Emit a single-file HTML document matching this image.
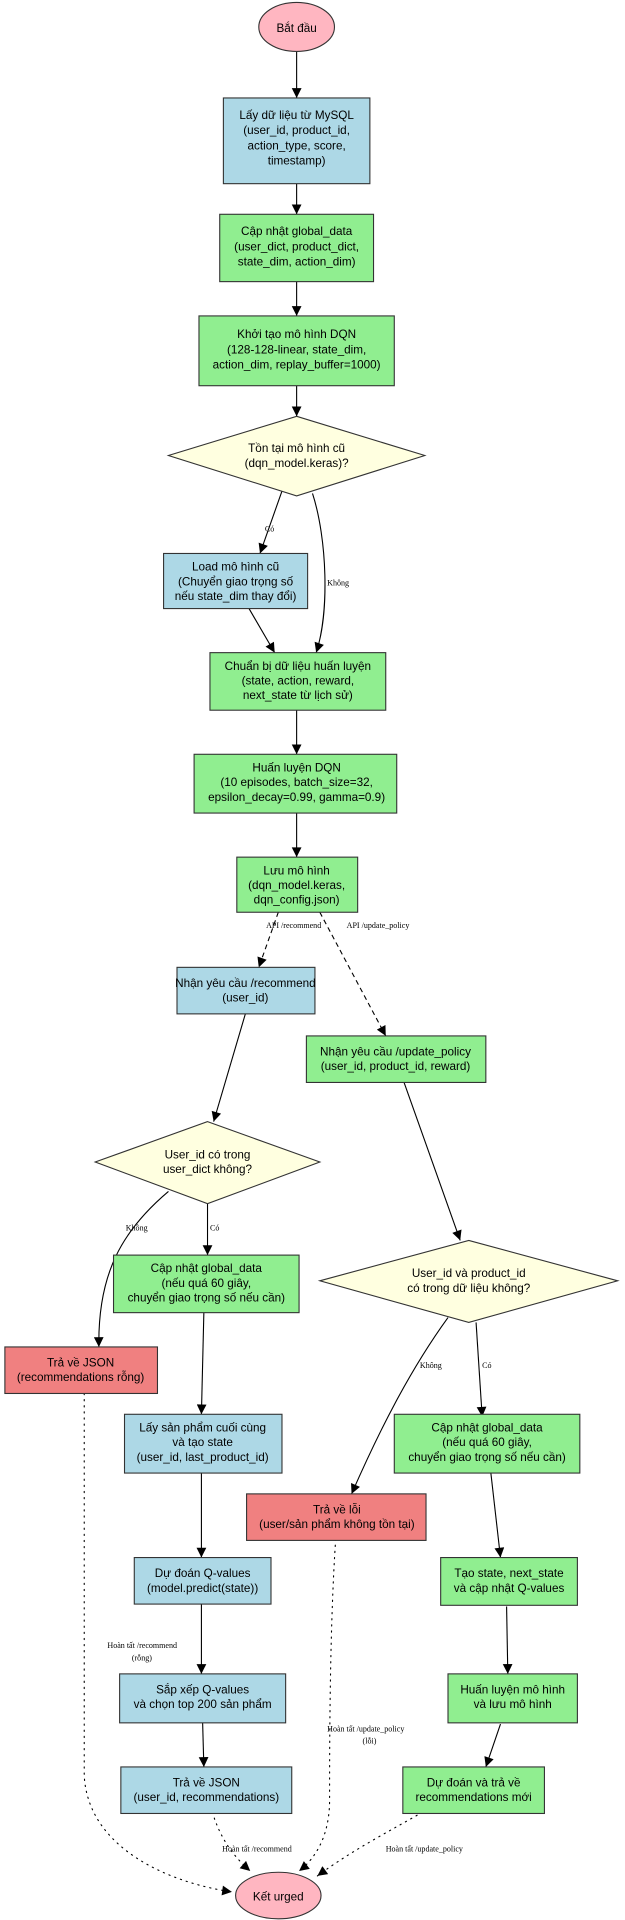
<!DOCTYPE html>
<html><head><meta charset="utf-8"><style>
html,body{margin:0;padding:0;background:#fff;width:625px;height:1920px;overflow:hidden}
svg{display:block}
.n{font-family:"Liberation Sans",sans-serif;font-size:9.6px;fill:#000;text-anchor:middle}
.l{font-family:"Liberation Serif",serif;font-size:6.6px;fill:#000}
.e{fill:none;stroke:#000;stroke-width:0.9}
.d{stroke-dasharray:4 3}
.o{stroke-dasharray:1 4;stroke-linecap:round}
rect,polygon.b,ellipse{stroke:#333;stroke-width:0.9}
.bl{fill:#add8e6}.gr{fill:#90ee90}.rd{fill:#f08080}.ye{fill:#ffffe0}.pk{fill:#ffb6c1}
</style></head><body>
<svg width="625" height="1920" viewBox="0 0 512 1568" preserveAspectRatio="none">
<defs><marker id="a" viewBox="0 0 10 10" refX="10" refY="5" markerWidth="10" markerHeight="8" markerUnits="userSpaceOnUse" orient="auto"><path d="M0,0L10,5L0,10z" fill="#000"/></marker></defs>
<g class="e" marker-end="url(#a)">
<path d="M243,42V80"/><path d="M243,150V175"/><path d="M243,230V258"/><path d="M243,315V340"/>
<path d="M231,401L213,452"/>
<path d="M256,403C268,440 270,500 259,533"/>
<path d="M204,497L225,533"/>
<path d="M243,580V616"/><path d="M243,664V700"/>
<path class="d" d="M228,745L212,790"/>
<path class="d" d="M262,745L316,846"/>
<path d="M201,828L175,916"/>
<path d="M331,884L377,1013"/>
<path d="M170,983V1025"/>
<path d="M138,973C100,1005 80,1040 81,1100"/>
<path d="M390,1080L395,1157"/>
<path d="M367,1076C335,1120 310,1170 288,1220"/>
<path d="M167,1072L165,1155"/>
<path d="M165,1203V1272"/>
<path d="M402,1202L410,1272"/>
<path d="M165,1310V1367"/>
<path d="M415,1312L416,1367"/>
<path d="M166,1407L167,1443"/>
<path d="M410,1408L398,1443"/>
<path class="o" d="M69,1138V1450C72,1510 140,1538 190,1545"/>
<path class="o" d="M275,1257C270,1330 270,1430 270,1470C270,1500 258,1518 245,1528"/>
<path class="o" d="M174,1480C180,1500 190,1515 205,1528"/>
<path class="o" d="M346,1480C320,1495 290,1510 260,1532"/>
</g>
<g class="l">
<text x="217" y="434">Có</text>
<text x="268" y="478">Không</text>
<text x="218" y="758">API /recommend</text>
<text x="284" y="758">API /update_policy</text>
<text x="103" y="1005">Không</text>
<text x="172" y="1005">Có</text>
<text x="344" y="1117">Không</text>
<text x="395" y="1117">Có</text>
<text x="88" y="1346">Hoàn tất /recommend</text>
<text x="108" y="1356">(rỗng)</text>
<text x="268" y="1414">Hoàn tất /update_policy</text>
<text x="297" y="1424">(lỗi)</text>
<text x="182" y="1512">Hoàn tất /recommend</text>
<text x="316" y="1512">Hoàn tất /update_policy</text>
</g>
<ellipse class="pk" cx="243" cy="22" rx="31" ry="20"/>
<text class="n" x="243" y="26">Bắt đầu</text>
<rect class="bl" x="183" y="80" width="120" height="70"/>
<text class="n" y="97"><tspan x="243">Lấy dữ liệu từ MySQL</tspan><tspan x="243" dy="12.5">(user_id, product_id,</tspan><tspan x="243" dy="12.5">action_type, score,</tspan><tspan x="243" dy="12.5">timestamp)</tspan></text>
<rect class="gr" x="180" y="175" width="126" height="55"/>
<text class="n" y="192"><tspan x="243">Cập nhật global_data</tspan><tspan x="243" dy="12.5">(user_dict, product_dict,</tspan><tspan x="243" dy="12.5">state_dim, action_dim)</tspan></text>
<rect class="gr" x="163" y="258" width="160" height="57"/>
<text class="n" y="276"><tspan x="243">Khởi tạo mô hình DQN</tspan><tspan x="243" dy="12.5">(128-128-linear, state_dim,</tspan><tspan x="243" dy="12.5">action_dim, replay_buffer=1000)</tspan></text>
<polygon class="b ye" points="243,340 348,372 243,405 138,372"/>
<text class="n" y="369"><tspan x="243">Tồn tại mô hình cũ</tspan><tspan x="243" dy="12.5">(dqn_model.keras)?</tspan></text>
<rect class="bl" x="134" y="452" width="118" height="45"/>
<text class="n" y="466"><tspan x="193">Load mô hình cũ</tspan><tspan x="193" dy="12">(Chuyển giao trọng số</tspan><tspan x="193" dy="12">nếu state_dim thay đổi)</tspan></text>
<rect class="gr" x="172" y="533" width="144" height="47"/>
<text class="n" y="547"><tspan x="244">Chuẩn bị dữ liệu huấn luyện</tspan><tspan x="244" dy="12">(state, action, reward,</tspan><tspan x="244" dy="12">next_state từ lịch sử)</tspan></text>
<rect class="gr" x="159" y="616" width="166" height="48"/>
<text class="n" y="630"><tspan x="243">Huấn luyện DQN</tspan><tspan x="243" dy="12">(10 episodes, batch_size=32,</tspan><tspan x="243" dy="12">epsilon_decay=0.99, gamma=0.9)</tspan></text>
<rect class="gr" x="194" y="700" width="99" height="45"/>
<text class="n" y="714"><tspan x="243">Lưu mô hình</tspan><tspan x="243" dy="12">(dqn_model.keras,</tspan><tspan x="243" dy="12">dqn_config.json)</tspan></text>
<rect class="bl" x="145" y="790" width="113" height="38"/>
<text class="n" y="806"><tspan x="201">Nhận yêu cầu /recommend</tspan><tspan x="201" dy="12">(user_id)</tspan></text>
<rect class="gr" x="251" y="846" width="147" height="38"/>
<text class="n" y="862"><tspan x="324">Nhận yêu cầu /update_policy</tspan><tspan x="324" dy="12">(user_id, product_id, reward)</tspan></text>
<polygon class="b ye" points="170,916 262,949 170,983 78,949"/>
<text class="n" y="946"><tspan x="170">User_id có trong</tspan><tspan x="170" dy="12">user_dict không?</tspan></text>
<polygon class="b ye" points="384,1013 506,1046 384,1080 262,1046"/>
<text class="n" y="1043"><tspan x="384">User_id và product_id</tspan><tspan x="384" dy="12">có trong dữ liệu không?</tspan></text>
<rect class="gr" x="93" y="1025" width="152" height="47"/>
<text class="n" y="1039"><tspan x="169">Cập nhật global_data</tspan><tspan x="169" dy="12">(nếu quá 60 giây,</tspan><tspan x="169" dy="12">chuyển giao trọng số nếu cần)</tspan></text>
<rect class="rd" x="4" y="1100" width="125" height="38"/>
<text class="n" y="1116"><tspan x="66">Trả về JSON</tspan><tspan x="66" dy="12">(recommendations rỗng)</tspan></text>
<rect class="bl" x="102" y="1155" width="129" height="48"/>
<text class="n" y="1169"><tspan x="166">Lấy sản phẩm cuối cùng</tspan><tspan x="166" dy="12">và tạo state</tspan><tspan x="166" dy="12">(user_id, last_product_id)</tspan></text>
<rect class="gr" x="323" y="1155" width="152" height="48"/>
<text class="n" y="1169"><tspan x="399">Cập nhật global_data</tspan><tspan x="399" dy="12">(nếu quá 60 giây,</tspan><tspan x="399" dy="12">chuyển giao trọng số nếu cần)</tspan></text>
<rect class="rd" x="202" y="1220" width="147" height="38"/>
<text class="n" y="1236"><tspan x="276">Trả về lỗi</tspan><tspan x="276" dy="12">(user/sản phẩm không tồn tại)</tspan></text>
<rect class="bl" x="110" y="1272" width="112" height="38"/>
<text class="n" y="1288"><tspan x="166">Dự đoán Q-values</tspan><tspan x="166" dy="12">(model.predict(state))</tspan></text>
<rect class="gr" x="361" y="1272" width="112" height="39"/>
<text class="n" y="1288"><tspan x="417">Tạo state, next_state</tspan><tspan x="417" dy="12">và cập nhật Q-values</tspan></text>
<rect class="bl" x="98" y="1367" width="136" height="40"/>
<text class="n" y="1383"><tspan x="166">Sắp xếp Q-values</tspan><tspan x="166" dy="12">và chọn top 200 sản phẩm</tspan></text>
<rect class="gr" x="367" y="1367" width="106" height="40"/>
<text class="n" y="1383"><tspan x="420">Huấn luyện mô hình</tspan><tspan x="420" dy="12">và lưu mô hình</tspan></text>
<rect class="bl" x="99" y="1443" width="140" height="38"/>
<text class="n" y="1459"><tspan x="169">Trả về JSON</tspan><tspan x="169" dy="12">(user_id, recommendations)</tspan></text>
<rect class="gr" x="330" y="1443" width="116" height="38"/>
<text class="n" y="1459"><tspan x="388">Dự đoán và trả về</tspan><tspan x="388" dy="12">recommendations mới</tspan></text>
<ellipse class="pk" cx="228" cy="1548" rx="35" ry="19"/>
<text class="n" x="228" y="1552">Kết urged</text>
</svg>
</body></html>
